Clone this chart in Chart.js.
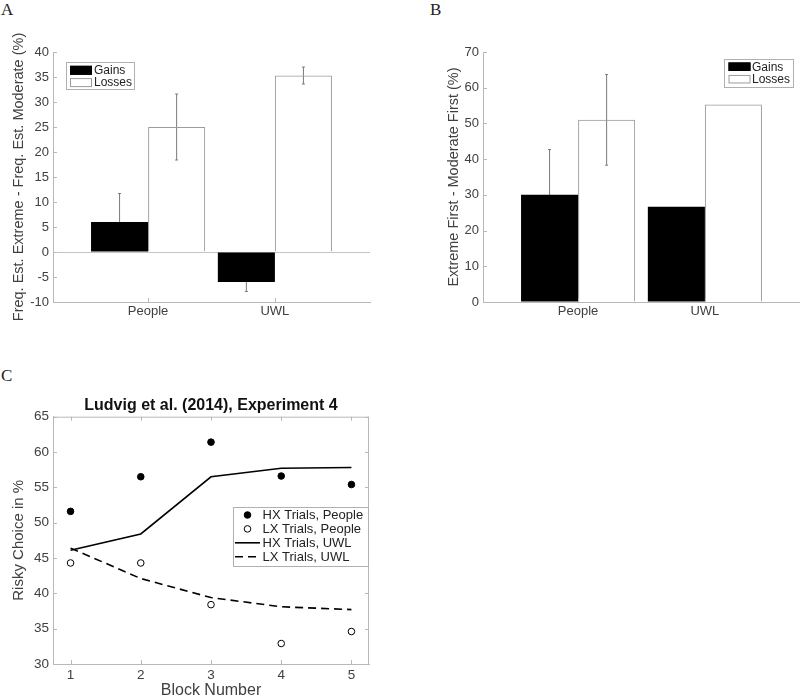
<!DOCTYPE html>
<html>
<head>
<meta charset="utf-8">
<script src="https://cdn.jsdelivr.net/npm/chart.js@4.4.1/dist/chart.umd.min.js"></script>
<style>
  html, body { margin: 0; padding: 0; background: #fff; }
  body { width: 800px; height: 697px; position: relative; overflow: hidden; }
  canvas { position: absolute; }
  .tag { position: absolute; font-family: 'Liberation Serif', 'Times New Roman', serif; font-size: 17px; color: #222; line-height: 1; }
</style>
</head>
<body>
<div class="tag" style="left:1px;top:1px">A</div>
<div class="tag" style="left:430px;top:1px">B</div>
<div class="tag" style="left:1px;top:367px">C</div>
<canvas id="chart-a" width="400" height="340" style="left:0;top:0"></canvas>
<canvas id="chart-b" width="400" height="340" style="left:400px;top:0"></canvas>
<canvas id="chart-c" width="400" height="310" style="left:0;top:390px"></canvas>
<script>
// shared categories
const groups = ['People', 'UWL'];
const groupPos = [1, 2];
const seriesNames = ['Gains', 'Losses'];

// A: frequency estimate, extreme minus moderate (%)
const estGains = [6.0, -6.0];
const estGainsErr = [5.7, 1.9];
const estLosses = [25.0, 35.3];
const estLossesErr = [6.6, 1.7];
const estTicks = [-10, -5, 0, 5, 10, 15, 20, 25, 30, 35, 40];

// B: extreme first minus moderate first (%)
const firstGains = [30.0, 26.7];
const firstGainsErr = [12.7, 0];
const firstLosses = [51.0, 55.3];
const firstLossesErr = [12.7, 0];
const firstTicks = [0, 10, 20, 30, 40, 50, 60, 70];

// C: Ludvig et al. (2014), Experiment 4
const blocks = [1, 2, 3, 4, 5];
const hxPeople = [51.6, 56.5, 61.4, 56.6, 55.4];
const lxPeople = [44.3, 44.3, 38.4, 32.9, 34.6];
const hxUWL = [46.1, 48.4, 56.5, 57.7, 57.8];
const lxUWL = [46.4, 42.1, 39.4, 38.1, 37.7];
const choiceTicks = [30, 35, 40, 45, 50, 55, 60, 65];

Chart.defaults.font.family = "'Liberation Sans', Arial, Helvetica, sans-serif";
Chart.defaults.color = '#404040';
Chart.defaults.animation = false;
const axisColor = '#b8b8b8';

function xy(xs, ys) {
  return xs.map((x, i) => ({ x: x, y: ys[i] }));
}

// error bars go under the bars, so black bars hide their inner half
const errorBars = {
  id: 'errorBars',
  beforeDatasetsDraw(chart) {
    const ctx = chart.ctx, y = chart.scales.y;
    chart.data.datasets.forEach((ds, i) => {
      if (!ds.errors) return;
      chart.getDatasetMeta(i).data.forEach((bar, j) => {
        const e = ds.errors[j];
        if (!e) return;
        const v = ds.data[j].y;
        const top = y.getPixelForValue(v + e), bot = y.getPixelForValue(v - e);
        ctx.save();
        ctx.strokeStyle = '#7a7a7a';
        ctx.lineWidth = 1;
        ctx.beginPath();
        ctx.moveTo(bar.x, top); ctx.lineTo(bar.x, bot);
        ctx.moveTo(bar.x - 1.5, top); ctx.lineTo(bar.x + 1.5, top);
        ctx.moveTo(bar.x - 1.5, bot); ctx.lineTo(bar.x + 1.5, bot);
        ctx.stroke();
        ctx.restore();
      });
    });
  }
};

// matlab-style ticks pointing into the axes
const innerTicks = {
  id: 'innerTicks',
  afterDatasetsDraw(chart, args, o) {
    const { ctx, chartArea: a, scales: { x, y } } = chart;
    ctx.save();
    ctx.strokeStyle = o.color;
    ctx.lineWidth = 1;
    ctx.beginPath();
    x.ticks.forEach(t => {
      const px = Math.round(x.getPixelForValue(t.value)) + 0.5;
      ctx.moveTo(px, a.bottom); ctx.lineTo(px, a.bottom - o.len);
      if (o.box) { ctx.moveTo(px, a.top); ctx.lineTo(px, a.top + o.len); }
    });
    y.ticks.forEach(t => {
      const py = Math.round(y.getPixelForValue(t.value)) + 0.5;
      ctx.moveTo(a.left, py); ctx.lineTo(a.left + o.len, py);
      if (o.box) { ctx.moveTo(a.right, py); ctx.lineTo(a.right - o.len, py); }
    });
    if (o.box) {
      ctx.moveTo(a.left, a.top + 0.5); ctx.lineTo(a.right, a.top + 0.5);
      ctx.moveTo(a.right - 0.5, a.top); ctx.lineTo(a.right - 0.5, a.bottom);
    }
    ctx.stroke();
    ctx.restore();
  }
};

// boxed legend placed inside the axes
const boxLegend = {
  id: 'boxLegend',
  afterDraw(chart, args, o) {
    const ctx = chart.ctx;
    ctx.save();
    ctx.fillStyle = '#fff';
    ctx.fillRect(o.x, o.y, o.w, o.h);
    ctx.strokeStyle = '#b0b0b0';
    ctx.lineWidth = 1;
    ctx.strokeRect(o.x + 0.5, o.y + 0.5, o.w, o.h);
    ctx.font = o.font;
    ctx.textBaseline = 'middle';
    chart.data.datasets.forEach((ds, i) => {
      const cy = o.y + o.first + i * o.row;
      const sx = o.x + o.symX;
      if (chart.config.type === 'bar') {
        ctx.fillStyle = '#fff';
        ctx.fillRect(sx, cy - o.symH / 2, o.symW, o.symH);
        ctx.fillStyle = ds.backgroundColor;
        ctx.fillRect(sx, cy - o.symH / 2, o.symW, o.symH);
        ctx.strokeStyle = ds.borderWidth ? ds.borderColor : ds.backgroundColor;
        ctx.strokeRect(sx + 0.5, cy - o.symH / 2 + 0.5, o.symW - 1, o.symH - 1);
      } else if (!ds.showLine) {
        ctx.beginPath();
        ctx.arc(sx + o.symW / 2, cy, ds.pointRadius, 0, Math.PI * 2);
        ctx.fillStyle = ds.pointBackgroundColor;
        ctx.fill();
        ctx.strokeStyle = ds.pointBorderColor;
        ctx.stroke();
      } else {
        ctx.beginPath();
        ctx.setLineDash(ds.borderDash || []);
        ctx.moveTo(sx, cy); ctx.lineTo(sx + o.symW, cy);
        ctx.strokeStyle = ds.borderColor;
        ctx.lineWidth = ds.borderWidth;
        ctx.stroke();
        ctx.setLineDash([]);
        ctx.lineWidth = 1;
      }
      ctx.fillStyle = '#222';
      ctx.fillText(ds.label, o.x + o.textX, cy + 0.5);
    });
    ctx.restore();
  }
};

function barPanel(id, p) {
  return new Chart(document.getElementById(id), {
    type: 'bar',
    data: {
      datasets: [
        { label: seriesNames[0], data: xy(groupPos, p.gains), errors: p.gainsErr,
          backgroundColor: '#000', borderWidth: 0 },
        { label: seriesNames[1], data: xy(groupPos, p.losses), errors: p.lossesErr,
          backgroundColor: 'rgba(255,255,255,0)', borderColor: '#9c9c9c', borderWidth: 1, borderSkipped: 'start' }
      ]
    },
    options: {
      responsive: false,
      layout: { padding: p.padding },
      datasets: { bar: { categoryPercentage: 0.9, barPercentage: 1 } },
      scales: {
        x: {
          type: 'linear', min: 0.25, max: 2.75, offset: false,
          afterBuildTicks: s => { s.ticks = groupPos.map(v => ({ value: v })); },
          ticks: { callback: v => groups[groupPos.indexOf(v)], font: { size: 13 }, padding: 2, maxRotation: 0 },
          grid: { display: false, drawTicks: false },
          border: { color: axisColor },
          afterFit: s => { s.height = 38; }
        },
        y: {
          min: p.min, max: p.max,
          afterBuildTicks: s => { s.ticks = p.ticks.map(v => ({ value: v })); },
          ticks: { font: { size: 13 }, padding: 4 },
          grid: { drawTicks: false, color: c => (p.zeroLine && c.tick && c.tick.value === 0) ? '#c4c4c4' : 'rgba(0,0,0,0)' },
          border: { color: axisColor },
          title: { display: true, text: p.yTitle, font: { size: 14.5 }, padding: { top: 10 } },
          afterFit: s => { s.width = p.yWidth; }
        }
      },
      plugins: {
        legend: { display: false },
        tooltip: { enabled: false },
        innerTicks: { color: axisColor, len: 4, box: false },
        boxLegend: p.legend
      }
    },
    plugins: [errorBars, innerTicks, boxLegend]
  });
}

document.addEventListener('DOMContentLoaded', function() {
  barPanel('chart-a', {
    gains: estGains, gainsErr: estGainsErr, losses: estLosses, lossesErr: estLossesErr,
    min: -10, max: 40, ticks: estTicks, zeroLine: true,
    yTitle: 'Freq. Est. Extreme - Freq. Est. Moderate (%)',
    padding: { top: 52, right: 30, left: 0, bottom: 0 }, yWidth: 53,
    legend: { x: 66, y: 62, w: 68, h: 27, symX: 4, symW: 22, symH: 9, textX: 28, first: 8.3, row: 12.3, font: "12px 'Liberation Sans', Arial, sans-serif" }
  });

  barPanel('chart-b', {
    gains: firstGains, gainsErr: firstGainsErr, losses: firstLosses, lossesErr: firstLossesErr,
    min: 0, max: 70, ticks: firstTicks, zeroLine: false,
    yTitle: 'Extreme First - Moderate First (%)',
    padding: { top: 52, right: 0, left: 35, bottom: 0 }, yWidth: 48,
    legend: { x: 324, y: 59, w: 69, h: 28, symX: 4.5, symW: 22, symH: 8.5, textX: 28, first: 7.7, row: 12.5, font: "12px 'Liberation Sans', Arial, sans-serif" }
  });

  new Chart(document.getElementById('chart-c'), {
    type: 'scatter',
    data: {
      datasets: [
        { label: 'HX Trials, People', data: xy(blocks, hxPeople), showLine: false,
          pointRadius: 3.3, pointBackgroundColor: '#000', pointBorderColor: '#000', pointBorderWidth: 1 },
        { label: 'LX Trials, People', data: xy(blocks, lxPeople), showLine: false,
          pointRadius: 3.3, pointBackgroundColor: '#fff', pointBorderColor: '#000', pointBorderWidth: 1 },
        { label: 'HX Trials, UWL', data: xy(blocks, hxUWL), showLine: true,
          pointRadius: 0, borderColor: '#000', borderWidth: 1.6 },
        { label: 'LX Trials, UWL', data: xy(blocks, lxUWL), showLine: true,
          pointRadius: 0, borderColor: '#000', borderWidth: 1.6, borderDash: [8, 5] }
      ]
    },
    options: {
      responsive: false,
      layout: { padding: { top: 0, right: 31, left: 0, bottom: 0 } },
      scales: {
        x: {
          type: 'linear', min: 0.75, max: 5.25,
          afterBuildTicks: s => { s.ticks = blocks.map(v => ({ value: v })); },
          ticks: { font: { size: 13.5 }, padding: 3.5, maxRotation: 0 },
          grid: { display: false, drawTicks: false },
          border: { color: axisColor },
          title: { display: true, text: 'Block Number', font: { size: 16 }, padding: { top: 0, bottom: 0 } },
          afterFit: s => { s.height = 36; }
        },
        y: {
          min: 30, max: 65,
          afterBuildTicks: s => { s.ticks = choiceTicks.map(v => ({ value: v })); },
          ticks: { font: { size: 13.5 }, padding: 4 },
          grid: { display: false, drawTicks: false },
          border: { color: axisColor },
          title: { display: true, text: 'Risky Choice in %', font: { size: 15 }, padding: { top: 10 } },
          afterFit: s => { s.width = 53; }
        }
      },
      plugins: {
        legend: { display: false },
        tooltip: { enabled: false },
        title: { display: true, text: 'Ludvig et al. (2014), Experiment 4', fullSize: false,
          font: { size: 16, weight: 'bold' }, color: '#111', padding: { top: 6, bottom: 1.5 } },
        innerTicks: { color: axisColor, len: 4, box: true },
        boxLegend: { x: 233, y: 117, w: 135, h: 59, symX: 2, symW: 25, textX: 29.5, first: 8, row: 13.9, font: "13px 'Liberation Sans', Arial, sans-serif" }
      }
    },
    plugins: [innerTicks, boxLegend]
  });
});
</script>
</body>
</html>
